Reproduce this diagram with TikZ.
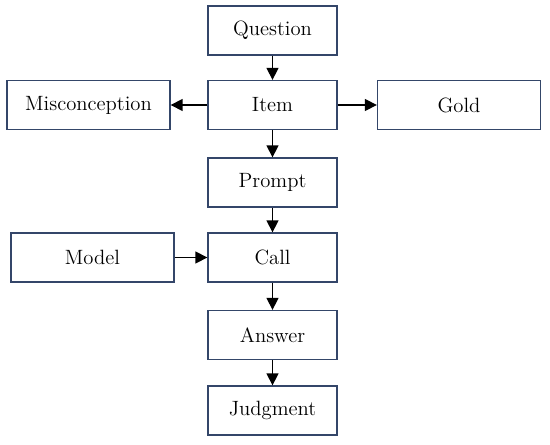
\documentclass[tikz,border=0pt]{standalone}
\usetikzlibrary{arrows.meta}
\definecolor{boxline}{RGB}{52,70,105}
\begin{document}
\begin{tikzpicture}[x=0.025cm,y=-0.025cm,
  box/.style={draw=boxline,line width=0.9pt,inner sep=0pt,minimum height=1.225cm,font=\fontsize{14.7}{17}\selectfont},
  midbox/.style={box,minimum width=3.225cm},
  sidebox/.style={box,minimum width=4.075cm},
  link/.style={line width=0.9pt,-{Triangle[length=8.5pt,width=8.5pt]}}]
\useasboundingbox (0,0) rectangle (550,445);
\node[midbox] (question) at (272.5,30.5) {Question};
\node[midbox] (item) at (272.5,105) {Item};
\node[midbox] (prompt) at (272.5,182.5) {Prompt};
\node[midbox] (call) at (272.5,257.5) {Call};
\node[midbox] (answer) at (272.5,335) {Answer};
\node[midbox] (judgment) at (272.5,410.5) {Judgment};
\node[sidebox] (misconception) at (88.5,105) {Misconception};
\node[sidebox] (gold) at (459,105) {Gold};
\node[sidebox] (model) at (92.5,257.5) {Model};
\foreach \a/\b in {question/item,item/prompt,prompt/call,call/answer,answer/judgment} { \draw[link] (\a) -- (\b); }
\draw[link] (item) -- (misconception); \draw[link] (item) -- (gold);
\draw[link] (model) -- (call);
\end{tikzpicture}
\end{document}
